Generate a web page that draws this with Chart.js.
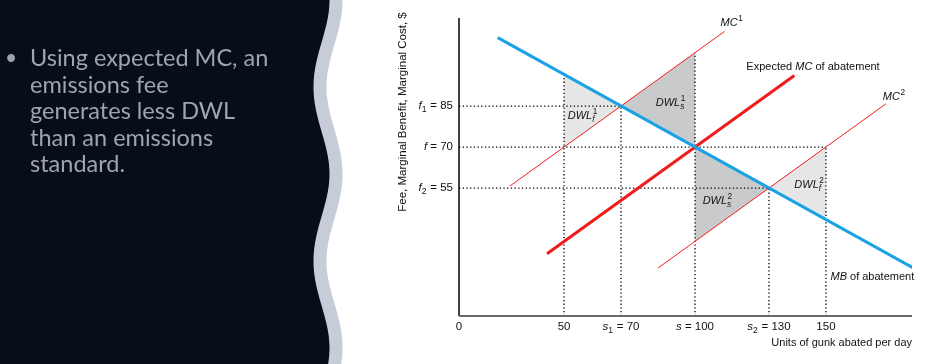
<!DOCTYPE html>
<html>
<head>
<meta charset="utf-8">
<script src="https://cdn.jsdelivr.net/npm/chart.js@4"></script>
<style>
  html, body { margin: 0; padding: 0; background: #fff; }
  #wrap { position: relative; width: 950px; height: 364px; overflow: hidden; }
  #chartBox { position: absolute; left: 0; top: 0; width: 950px; height: 364px; }
  #wave { position: absolute; left: 0; top: 0; }
  #dot { position: absolute; left: 5px; top: 44px; font-family: Lato, sans-serif; font-size: 21px; line-height: 26.6px; color: #9ea2a9; }
  #bullet { position: absolute; left: 30px; top: 44px; width: 290px; font-family: Lato, sans-serif; font-size: 23.5px; line-height: 26.6px; color: #a0a4ab; white-space: nowrap; }
</style>
</head>
<body>
<div id="wrap">
  <div id="chartBox"><canvas id="chartDWL"></canvas></div>
  <svg id="wave" width="360" height="364"></svg>
  <div id="dot">•</div>
  <div id="bullet">Using expected MC, an<br>emissions fee<br>generates less DWL<br>than an emissions<br>standard.</div>
</div>
<script>
// axis ticks (x positions read off the drawing, which is not to scale)
const xTickPos = [4.3, 46.9, 70, 100, 130, 153.1];
const xTickLabels = ["0", "50", "*s*_1 = 70", "*s* = 100", "*s*_2 = 130", "150"];
const yTickPos = [85, 70, 55];
const yTickLabels = ["*f*_1 = 85", "*f* = 70", "*f*_2 = 55"];

// curves: [x, y] end points
const mb = [[20, 110], [188.5, 25.75]];
const mc1 = [[25, 55.75], [112, 112.3]];
const mcExp = [[40, 31], [140.3, 96.2]];
const mc2 = [[85, 25.75], [177.4, 85.8]];

// deadweight loss triangles
const dwlF1 = [[46.9, 96.5], [70, 85], [46.9, 70]];
const dwlS1 = [[70, 85], [100, 104.5], [100, 70]];
const dwlS2 = [[100, 70], [130, 55], [100, 35.5]];
const dwlF2 = [[130, 55], [153.1, 70], [153.1, 43.45]];

// dotted guides
const guides = [
  [[4.3, 85], [70, 85]],
  [[4.3, 70], [153.1, 70]],
  [[4.3, 55], [130, 55]],
  [[46.9, 8.2], [46.9, 96.5]],
  [[70, 8.2], [70, 85]],
  [[100, 8.2], [100, 104.5]],
  [[130, 8.2], [130, 55]],
  [[153.1, 8.2], [153.1, 70]],
];

const xy = (arr) => arr.map((p) => ({ x: p[0], y: p[1] }));
const closed = (arr) => xy(arr.concat([arr[0]]));

// left panel wave
(function () {
  const svg = document.getElementById("wave");
  const pts = [];
  for (let y = -4; y <= 368; y += 2) {
    pts.push([328 + 8 * Math.cos((2 * Math.PI * y) / 174), y]);
  }
  let d = "M0,-4 ";
  pts.forEach((p) => (d += "L" + (p[0] - 6).toFixed(2) + "," + p[1] + " "));
  d += "L0,368 Z";
  let band = pts.map((p) => p[0].toFixed(2) + "," + p[1]).join(" ");
  svg.innerHTML =
    '<path d="' + d + '" fill="#070d19"/>' +
    '<polyline points="' + band + '" fill="none" stroke="#c6cdd8" stroke-width="13"/>';
})();

const FONT = '"Liberation Sans", Arial, Helvetica, sans-serif';
const fontFor = (it, size) => (it ? "italic " : "") + size + "px " + FONT;

function parseRich(s) {
  const out = [];
  let it = false, buf = "";
  const flush = () => { if (buf) { out.push({ t: buf, it: it }); buf = ""; } };
  for (let i = 0; i < s.length; i++) {
    const c = s[i];
    if (c === "*") { flush(); it = !it; }
    else if (c === "_" || c === "^") {
      flush();
      const seg = {};
      seg[c === "_" ? "sub" : "sup"] = s[i + 1]; i++;
      if (s[i + 1] === "_" || s[i + 1] === "^") { seg[s[i + 1] === "_" ? "sub" : "sup"] = s[i + 2]; i += 2; }
      out.push(seg);
    } else buf += c;
  }
  flush();
  return out;
}

function drawRich(ctx, s, x, y, size, align) {
  const parts = parseRich(s);
  const small = size * 0.75;
  const isLetter = (c) => /[a-z]/i.test(c);
  let w = 0;
  parts.forEach((p) => {
    if (p.t !== undefined) { ctx.font = fontFor(p.it, size); w += ctx.measureText(p.t).width; }
    else {
      let m = 0;
      ["sub", "sup"].forEach((k) => { if (p[k]) { ctx.font = fontFor(isLetter(p[k]), small); m = Math.max(m, ctx.measureText(p[k]).width); } });
      w += m + 0.5;
    }
  });
  let cx = align === "right" ? x - w : align === "center" ? x - w / 2 : x;
  ctx.textBaseline = "middle";
  ctx.textAlign = "left";
  ctx.fillStyle = "#111";
  parts.forEach((p) => {
    if (p.t !== undefined) {
      ctx.font = fontFor(p.it, size);
      ctx.fillText(p.t, cx, y);
      cx += ctx.measureText(p.t).width;
    } else {
      let m = 0;
      if (p.sup) { ctx.font = fontFor(isLetter(p.sup), small); ctx.fillText(p.sup, cx + 0.5, y - size * 0.4); m = Math.max(m, ctx.measureText(p.sup).width); }
      if (p.sub) { ctx.font = fontFor(isLetter(p.sub), small); ctx.fillText(p.sub, cx, y + size * 0.35); m = Math.max(m, ctx.measureText(p.sub).width); }
      cx += m + 0.5;
    }
  });
}

const overlay = {
  id: "overlay",
  afterDatasetsDraw(chart) {
    const { ctx, chartArea: a, scales: { x, y } } = chart;
    const px = (p) => [x.getPixelForValue(p[0]), y.getPixelForValue(p[1])];
    ctx.save();
    // axes
    ctx.strokeStyle = "#000";
    ctx.lineWidth = 1.5;
    ctx.beginPath(); ctx.moveTo(a.left, a.top); ctx.lineTo(a.left, a.bottom); ctx.stroke();
    ctx.strokeStyle = "#6a6a6a";
    ctx.lineWidth = 2;
    ctx.beginPath(); ctx.moveTo(a.left, a.bottom); ctx.lineTo(a.right, a.bottom); ctx.stroke();

    // tick labels
    xTickPos.forEach((v, i) => drawRich(ctx, xTickLabels[i], x.getPixelForValue(v), a.bottom + 11, 11.5, "center"));
    yTickPos.forEach((v, i) => drawRich(ctx, yTickLabels[i], a.left - 6, y.getPixelForValue(v), 11.5, "right"));

    // axis titles
    drawRich(ctx, "Units of gunk abated per day", a.right, a.bottom + 27, 11, "right");
    ctx.save();
    ctx.translate(a.left - 56, a.top + 94);
    ctx.rotate(-Math.PI / 2);
    drawRich(ctx, "Fee, Marginal Benefit, Marginal Cost, $", 0, 0, 11.5, "center");
    ctx.restore();

    // curve labels
    let p = px(mc1[1]);
    drawRich(ctx, "*MC*^1", p[0] - 4, p[1] - 8, 11, "left");
    p = px(mcExp[1]);
    drawRich(ctx, "Expected *MC* of abatement", p[0] - 48, p[1] - 8, 11, "left");
    p = px(mc2[1]);
    drawRich(ctx, "*MC*^2", p[0] - 3, p[1] - 7, 11, "left");
    p = px(mb[1]);
    drawRich(ctx, "*MB* of abatement", p[0] + 1, p[1] + 9, 11, "right");

    // DWL labels
    [["*DWL*_f^1", 48.4, 81.3], ["*DWL*_s^1", 84.1, 86.2], ["*DWL*_s^2", 103.1, 50.2], ["*DWL*_f^2", 140.3, 56.1]]
      .forEach((l) => drawRich(ctx, l[0], x.getPixelForValue(l[1]), y.getPixelForValue(l[2]), 11, "left"));
    ctx.restore();
  },
};

const lineSet = (data, color, width, order) => ({
  data: xy(data), borderColor: color, borderWidth: width, pointRadius: 0, fill: false, order: order,
});
const areaSet = (data, color) => ({
  data: closed(data), borderWidth: 0, borderColor: "rgba(0,0,0,0)", backgroundColor: color, pointRadius: 0, fill: "shape", order: 5,
});

const datasets = [
  lineSet(mb, "#1ba1e6", 3, 0),
  lineSet(mcExp, "#f01c1c", 3, 1),
  lineSet(mc1, "#f01c1c", 1, 2),
  lineSet(mc2, "#f01c1c", 1, 2),
  areaSet(dwlF1, "#e6e6e6"),
  areaSet(dwlS1, "#c9cacc"),
  areaSet(dwlS2, "#c9cacc"),
  areaSet(dwlF2, "#e6e6e6"),
];
guides.forEach((g) => {
  const s = lineSet(g, "#000", 1.3, 3);
  s.borderDash = [1.3, 2.4];
  datasets.push(s);
});

new Chart(document.getElementById("chartDWL"), {
  type: "line",
  data: { datasets: datasets },
  options: {
    responsive: true,
    maintainAspectRatio: false,
    animation: false,
    layout: { padding: { left: 459, right: 38, top: 18, bottom: 48 } },
    scales: {
      x: { type: "linear", min: 4.3, max: 188, display: false },
      y: { type: "linear", min: 8.2, max: 117.2, display: false },
    },
    plugins: { legend: { display: false }, tooltip: { enabled: false } },
  },
  plugins: [overlay],
});
</script>
</body>
</html>
